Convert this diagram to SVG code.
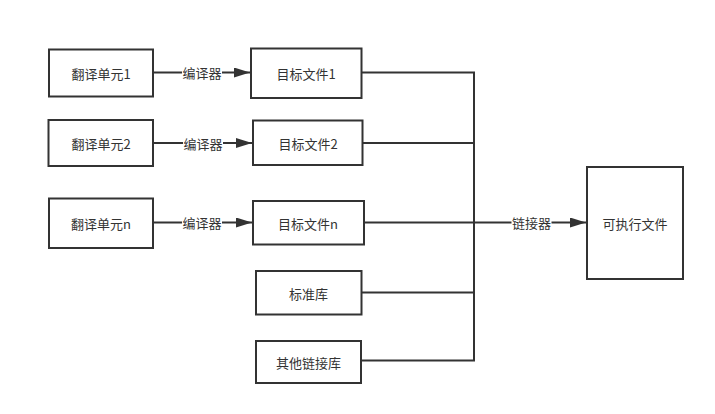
<svg xmlns="http://www.w3.org/2000/svg" width="715" height="414" viewBox="0 0 715 414">
<defs>
<marker id="arr" markerWidth="16" markerHeight="10" refX="16" refY="5" orient="auto" markerUnits="userSpaceOnUse">
<path d="M0,0 L16,5 L0,10 Z" fill="#333"/>
</marker>
<style>
.box{fill:#fff;stroke:#333;stroke-width:2}
.t{font-family:"Noto Sans CJK SC","Noto Sans",sans-serif;font-size:13px;fill:#333;text-anchor:middle;dominant-baseline:central}
.lb{font-family:"Noto Sans CJK SC","Noto Sans",sans-serif;font-size:13px;fill:#333;text-anchor:middle;dominant-baseline:central}
.ln{fill:none;stroke:#333;stroke-width:2}
.bg{fill:#fff}
</style>
</defs>
<rect width="715" height="414" fill="#fff"/>
<g id="connectors">
<line class="ln" x1="153" y1="72.5" x2="250" y2="72.5" marker-end="url(#arr)"/>
<line class="ln" x1="153" y1="143" x2="252" y2="143" marker-end="url(#arr)"/>
<line class="ln" x1="153" y1="222.5" x2="252" y2="222.5" marker-end="url(#arr)"/>
<polyline class="ln" points="361.5,72.5 474,72.5 474,360.5 361,360.5"/>
<line class="ln" x1="362.5" y1="143" x2="474" y2="143"/>
<line class="ln" x1="364" y1="222.5" x2="474" y2="222.5"/>
<line class="ln" x1="361.5" y1="292.5" x2="474" y2="292.5"/>
<line class="ln" x1="474" y1="222.5" x2="586" y2="222.5" marker-end="url(#arr)"/>
<rect class="bg" x="182" y="65.5" width="40" height="14"/>
<text class="lb" x="202" y="72.5">编译器</text>
<rect class="bg" x="183" y="136" width="40" height="14"/>
<text class="lb" x="203" y="143">编译器</text>
<rect class="bg" x="182" y="215.5" width="40" height="14"/>
<text class="lb" x="202" y="222.5">编译器</text>
<rect class="bg" x="511.5" y="215.5" width="40" height="14"/>
<text class="lb" x="531.5" y="222.5">链接器</text>
</g>
<g id="unit1"><rect class="box" x="49" y="49.5" width="104" height="47"/><text class="t" x="101" y="73">翻译单元1</text></g>
<g id="unit2"><rect class="box" x="48.5" y="120" width="104.5" height="46"/><text class="t" x="101" y="143">翻译单元2</text></g>
<g id="unitn"><rect class="box" x="49" y="198.5" width="104" height="49.5"/><text class="t" x="101" y="223">翻译单元n</text></g>
<g id="obj1"><rect class="box" x="251" y="48.5" width="110.5" height="49.5"/><text class="t" x="306" y="73">目标文件1</text></g>
<g id="obj2"><rect class="box" x="253" y="120.5" width="109.5" height="44.5"/><text class="t" x="308" y="143">目标文件2</text></g>
<g id="objn"><rect class="box" x="253" y="201" width="111" height="43.5"/><text class="t" x="308" y="223">目标文件n</text></g>
<g id="stdlib"><rect class="box" x="256" y="271" width="105.5" height="43.5"/><text class="t" x="308.5" y="293">标准库</text></g>
<g id="otherlib"><rect class="box" x="256" y="341" width="105" height="42"/><text class="t" x="308.5" y="362">其他链接库</text></g>
<g id="exe"><rect class="box" x="587" y="167" width="96" height="112"/><text class="t" x="635" y="223">可执行文件</text></g>
</svg>
